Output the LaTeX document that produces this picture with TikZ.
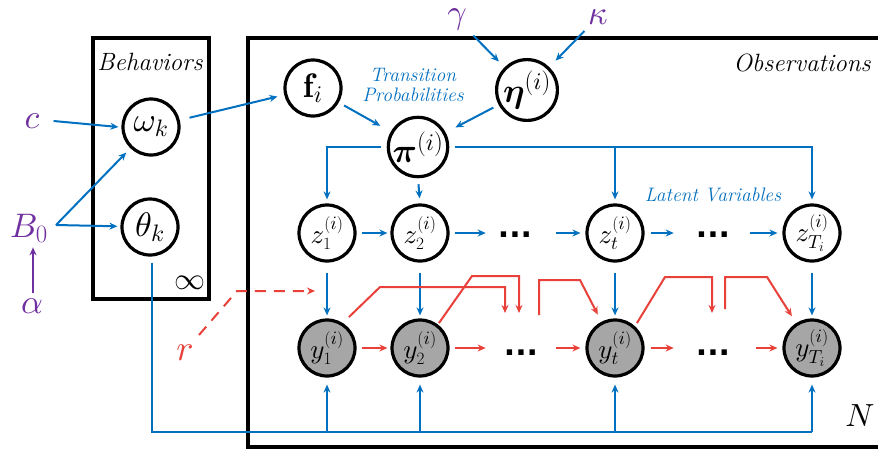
\documentclass[tikz,border=0pt]{standalone}
\usepackage{amsmath}
\usepackage{bm}
\usepackage{fontspec}
\DeclareFontShape{OML}{cmm}{m}{it}{<->cmmi10}{}
\DeclareFontShape{OML}{cmm}{b}{it}{<->cmmib10}{}
\DeclareFontShape{OMS}{cmsy}{m}{n}{<->cmsy10}{}
\DeclareFontShape{OMS}{cmsy}{b}{n}{<->cmbsy10}{}
\newfontfamily\dotfont{DejaVu Sans}
\usetikzlibrary{arrows.meta}
\definecolor{myblue}{HTML}{0070C0}
\definecolor{myred}{HTML}{E8413A}
\definecolor{mypurple}{HTML}{7030A0}
\definecolor{mygray}{HTML}{A6A6A6}
\begin{document}
\begin{tikzpicture}[x=1pt,y=-1pt,
  var/.style={circle,draw=black,line width=3.2pt,minimum size=56pt,inner sep=0pt,font=\fontsize{34}{34}\selectfont},
  zvar/.style={var,font=\fontsize{27}{27}\selectfont},
  obs/.style={zvar,fill=mygray},
  plate/.style={draw=black,line width=3.5pt},
  tip/.style={-{Stealth[length=8pt,width=7pt]}},
  barr/.style={draw=myblue,line width=2pt,tip},
  bline/.style={draw=myblue,line width=2pt},
  rarr/.style={draw=myred,line width=2pt,tip},
  parr/.style={draw=mypurple,line width=2pt,tip},
  plab/.style={text=mypurple,font=\fontsize{34}{34}\selectfont,inner sep=0pt},
  lbl/.style={font=\fontsize{25}{25}\selectfont\itshape,inner sep=0pt},
  blbl/.style={text=myblue,font=\fontsize{19.5}{20}\selectfont\itshape,inner sep=0pt,align=center},
  dts/.style={font=\dotfont\bfseries\fontsize{30}{30}\selectfont,inner sep=0pt,anchor=base}
]
\useasboundingbox (0,0) rectangle (878,450);
\clip (0,0) rectangle (878,450);
\fill[white] (0,0) rectangle (878,450);

% plates
\draw[plate] (93,38) rectangle (209,299);
\draw[plate] (248,38) rectangle (900,447);
\node[lbl] (behav) at (150,62) {Behaviors};
\node[lbl] (obsl) at (802,63) {Observations};
\node[font=\fontsize{31}{31}\selectfont,inner sep=0pt] (inf) at (190,283) {$\infty$};
\node[font=\fontsize{32}{32}\selectfont,inner sep=0pt] (N) at (860,416) {$N$};

% hyperparameters
\node[plab] (c) at (32,121) {$c$};
\node[plab] (B0) at (29,228) {$B_0$};
\node[plab] (alpha) at (32,306) {$\alpha$};
\node[plab] (gamma) at (457,19) {$\gamma$};
\node[plab] (kappa) at (598,17) {$\kappa$};
\node[text=myred,font=\fontsize{36}{36}\selectfont,inner sep=1pt] (r) at (185,353) {$r$};

% variables
\node[var] (omega) at (151,127) {$\omega_k$};
\node[var] (theta) at (150,227) {$\theta_k$};
\node[var] (f) at (313,88) {$\mathbf{f}_i$};
\node[var] (eta) at (527,90) {$\bm{\eta}^{(i)}$};
\node[var] (pi) at (418,147) {$\bm{\pi}^{(i)}$};
\node[blbl] (tp) at (413,85) {Transition\\Probabilities};
\node[blbl] (lv) at (713,195) {Latent Variables};

\node[zvar] (z1) at (327,233) {$z_1^{(i)}$};
\node[zvar] (z2) at (420,233) {$z_2^{(i)}$};
\node[zvar] (zt) at (615,233) {$z_t^{(i)}$};
\node[zvar] (zT) at (812,233) {$z_{T_i}^{(i)}$};
\node[obs] (y1) at (327,348) {$y_1^{(i)}$};
\node[obs] (y2) at (420,348) {$y_2^{(i)}$};
\node[obs] (yt) at (615,348) {$y_t^{(i)}$};
\node[obs] (yT) at (812,348) {$y_{T_i}^{(i)}$};

\node[dts] (zd1) at (515,237) {...};
\node[dts] (zd2) at (713,237) {...};
\node[dts] (yd1) at (521,355) {...};
\node[dts] (yd2) at (713,355) {...};

% purple
\draw[parr] ([shift={(1,-5)}]alpha.north) -- ([shift={(4,5)}]B0.south);

% blue arrows left
\draw[barr] ([shift={(14,0)}]c.east) -- ([shift={(-3,0)}]omega.west);
\coordinate (bs) at (56,225);
\draw[barr,shorten >=6pt] (bs) -- (omega);
\draw[barr,shorten >=3pt] (bs) -- (theta);
\draw[barr,shorten <=10pt,shorten >=7pt] (omega) -- (f);

% top
\draw[barr,shorten <=9pt,shorten >=8pt] (gamma) -- (eta);
\draw[barr,shorten <=9pt,shorten >=9pt] (kappa) -- (eta);
\draw[barr,shorten <=6pt,shorten >=12pt] (f) -- (pi);
\draw[barr,shorten <=6pt,shorten >=11pt] (eta) -- (pi);

% pi branches
\coordinate (pm) at (615,148);
\draw[barr,shorten >=4pt] ([shift={(-6,0)}]pi.west) -| (z1.north);
\draw[barr,shorten <=6pt,shorten >=5pt] (pi.south) -- (z2.north);
\draw[barr,shorten >=4pt] ([shift={(6,0)}]pi.east) -| (zT.north);
\draw[barr,shorten >=4pt] (pm) -- (zt.north);

% z chain
\draw[barr,shorten <=5pt,shorten >=3pt] (z1.east) -- (z2.west);
\draw[barr,shorten <=5pt,shorten >=12pt] (z2.east) -- (zd1.west |- z2.east);
\draw[barr,shorten <=24pt,shorten >=5pt] (zd1.east |- zt.west) -- (zt.west);
\draw[barr,shorten <=6pt,shorten >=22pt] (zt.east) -- (zd2.west |- zt.east);
\draw[barr,shorten <=20pt,shorten >=5pt] (zd2.east |- zT.west) -- (zT.west);

% z -> y
\foreach \n in {1,2,t,T}{
  \draw[barr,shorten <=10pt,shorten >=3pt] (z\n.south) -- (y\n.north);
}

% y chain
\draw[rarr,shorten <=5pt,shorten >=3pt] (y1.east) -- (y2.west);
\draw[rarr,shorten <=5pt,shorten >=18pt] (y2.east) -- (yd1.west |- y2.east);
\draw[rarr,shorten <=18pt,shorten >=5pt] (yd1.east |- yt.west) -- (yt.west);
\draw[rarr,shorten <=6pt,shorten >=22pt] (yt.east) -- (yd2.west |- yt.east);
\draw[rarr,shorten <=26pt,shorten >=5pt] (yd2.east |- yT.west) -- (yT.west);

% bottom blue
\coordinate (bot) at (152,432);
\draw[bline] ([shift={(2,6)}]theta.south) |- (yT |- bot);
\foreach \n in {1,2,t,T}{
  \draw[barr,shorten >=7pt] (y\n |- bot) -- (y\n.south);
}

% red dashed from r
\coordinate (rk) at (237,291);
\coordinate (re) at (315,291);
\draw[rarr,dashed,dash pattern=on 11pt off 8pt] ([shift={(14,-18)}]r.center) -- (rk) -- (re);

% red skip arrows
\coordinate (a1) at (380,287); \coordinate (a1e) at (505,287);
\draw[rarr] ([shift={(1,-10)}]y1.north east) -- (a1) -- (a1e) -- ++(0,26);
\coordinate (a2) at (472,276); \coordinate (a2e) at (519,276);
\draw[rarr] ([shift={(-2,-4)}]y2.north east) -- (a2) -- (a2e) -- ++(0,37);
\coordinate (a3s) at (539,315); \coordinate (a3) at (539,280); \coordinate (a3b) at (580,280);
\draw[rarr,shorten >=8pt] (a3s) -- (a3) -- (a3b) -- (yt);
\coordinate (a4) at (665,277); \coordinate (a4e) at (712,277);
\draw[rarr] ([shift={(1,-4)}]yt.north east) -- (a4) -- (a4e) -- ++(0,36);
\coordinate (a5s) at (725,309); \coordinate (a5) at (725,277); \coordinate (a5b) at (767,277);
\draw[rarr,shorten >=8pt] (a5s) -- (a5) -- (a5b) -- (yT);
\end{tikzpicture}
\end{document}
